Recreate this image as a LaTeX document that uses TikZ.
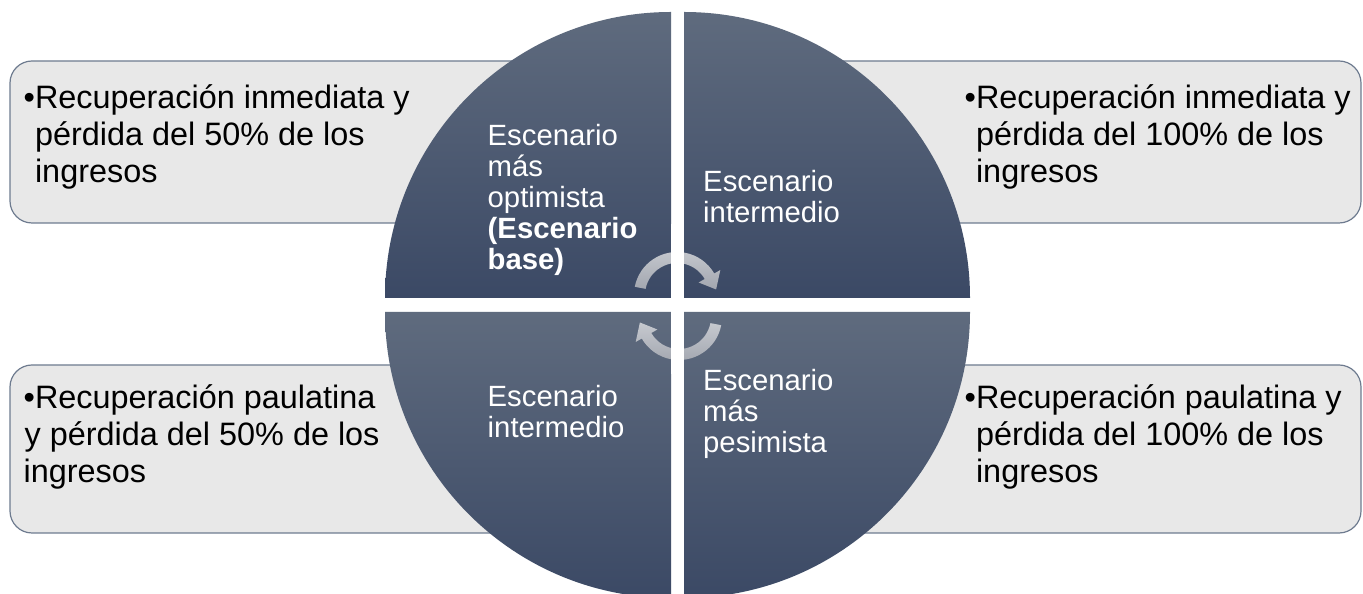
\documentclass[tikz,border=0pt]{standalone}
\usepackage{fontspec}
\setmainfont{Liberation Sans}
\definecolor{qtop}{HTML}{5F6B7E}
\definecolor{qbot}{HTML}{3B4965}
\definecolor{boxfill}{HTML}{E8E8E8}
\definecolor{boxline}{HTML}{6E7B8F}
\definecolor{arrtop}{HTML}{C6C9CF}
\definecolor{arrbot}{HTML}{A2A6AF}
\newcommand{\boxlines}[1]{\begin{tabular}[t]{@{}l@{}}#1\end{tabular}}
\begin{document}
\begin{tikzpicture}[x=1pt,y=1pt,
  sidebox/.style={fill=boxfill,draw=boxline,line width=1.2pt,rounded corners=22pt},
  quad/.style={top color=qtop,bottom color=qbot},
  boxtext/.style={anchor=base west,inner sep=0pt,text=black,font=\fontsize{32.4}{37}\selectfont},
  circtext/.style={anchor=base west,inner sep=0pt,text=white,font=\fontsize{29.3}{31}\selectfont},
  cyclearrow/.style={top color=arrtop,bottom color=arrbot}]
\clip (0,0) rectangle (1363,594);
\fill[white] (0,0) rectangle (1363,594);
% side boxes
\draw[sidebox] (10,371) rectangle (600,533);
\draw[sidebox] (760,371) rectangle (1361,533);
\draw[sidebox] (10,61) rectangle (600,229);
\draw[sidebox] (760,61) rectangle (1361,229);
% quadrants
\shade[quad] (671,296) -- (385,296) arc[start angle=180,end angle=90,radius=286] -- cycle;
\shade[quad] (684,296) -- (684,582) arc[start angle=90,end angle=0,radius=286] -- cycle;
\shade[quad] (671,282) -- (671,-4) arc[start angle=270,end angle=180,radius=286] -- cycle;
\shade[quad] (684,282) -- (970,282) arc[start angle=0,end angle=-90,radius=286] -- cycle;
% cycle arrows
\begin{scope}[shift={(677,299)}]
\shade[cyclearrow] (169:43) arc[start angle=169,end angle=30,radius=43] -- (30:50)
  -- (8:39.5) -- (30:25) -- (30:32) arc[start angle=30,end angle=169,radius=32] -- cycle;
\end{scope}
\begin{scope}[shift={(679,277)},rotate=180]
\shade[cyclearrow] (169:43) arc[start angle=169,end angle=30,radius=43] -- (30:50)
  -- (8:39.5) -- (30:25) -- (30:32) arc[start angle=30,end angle=169,radius=32] -- cycle;
\end{scope}
\fill[white] (671,220) rectangle (684,370);
% box texts
\node[boxtext] (tl) at (23.5,485.5) {\boxlines{•Recuperación inmediata y\\\phantom{•}pérdida del 50\% de los\\\phantom{•}ingresos}};
\node[boxtext] (tr) at (964.5,485.5) {\boxlines{•Recuperación inmediata y\\\phantom{•}pérdida del 100\% de los\\\phantom{•}ingresos}};
\node[boxtext] (bl) at (23.5,185) {\boxlines{•Recuperación paulatina\\\hspace*{1pt}y pérdida del 50\% de los\\ingresos}};
\node[boxtext] (br) at (964.5,185) {\boxlines{•Recuperación paulatina y\\\phantom{•}pérdida del 100\% de los\\\phantom{•}ingresos}};
% circle texts
\node[circtext] (ctl) at (487.5,448.7) {\boxlines{Escenario\\más\\optimista\\\textbf{(Escenario}\\\textbf{base)}}};
\node[circtext] (ctr) at (703,402.5) {\boxlines{Escenario\\intermedio}};
\node[circtext] (cbl) at (487.5,187.5) {\boxlines{Escenario\\intermedio}};
\node[circtext] (cbr) at (703,203) {\boxlines{Escenario\\más\\pesimista}};
\end{tikzpicture}
\end{document}
